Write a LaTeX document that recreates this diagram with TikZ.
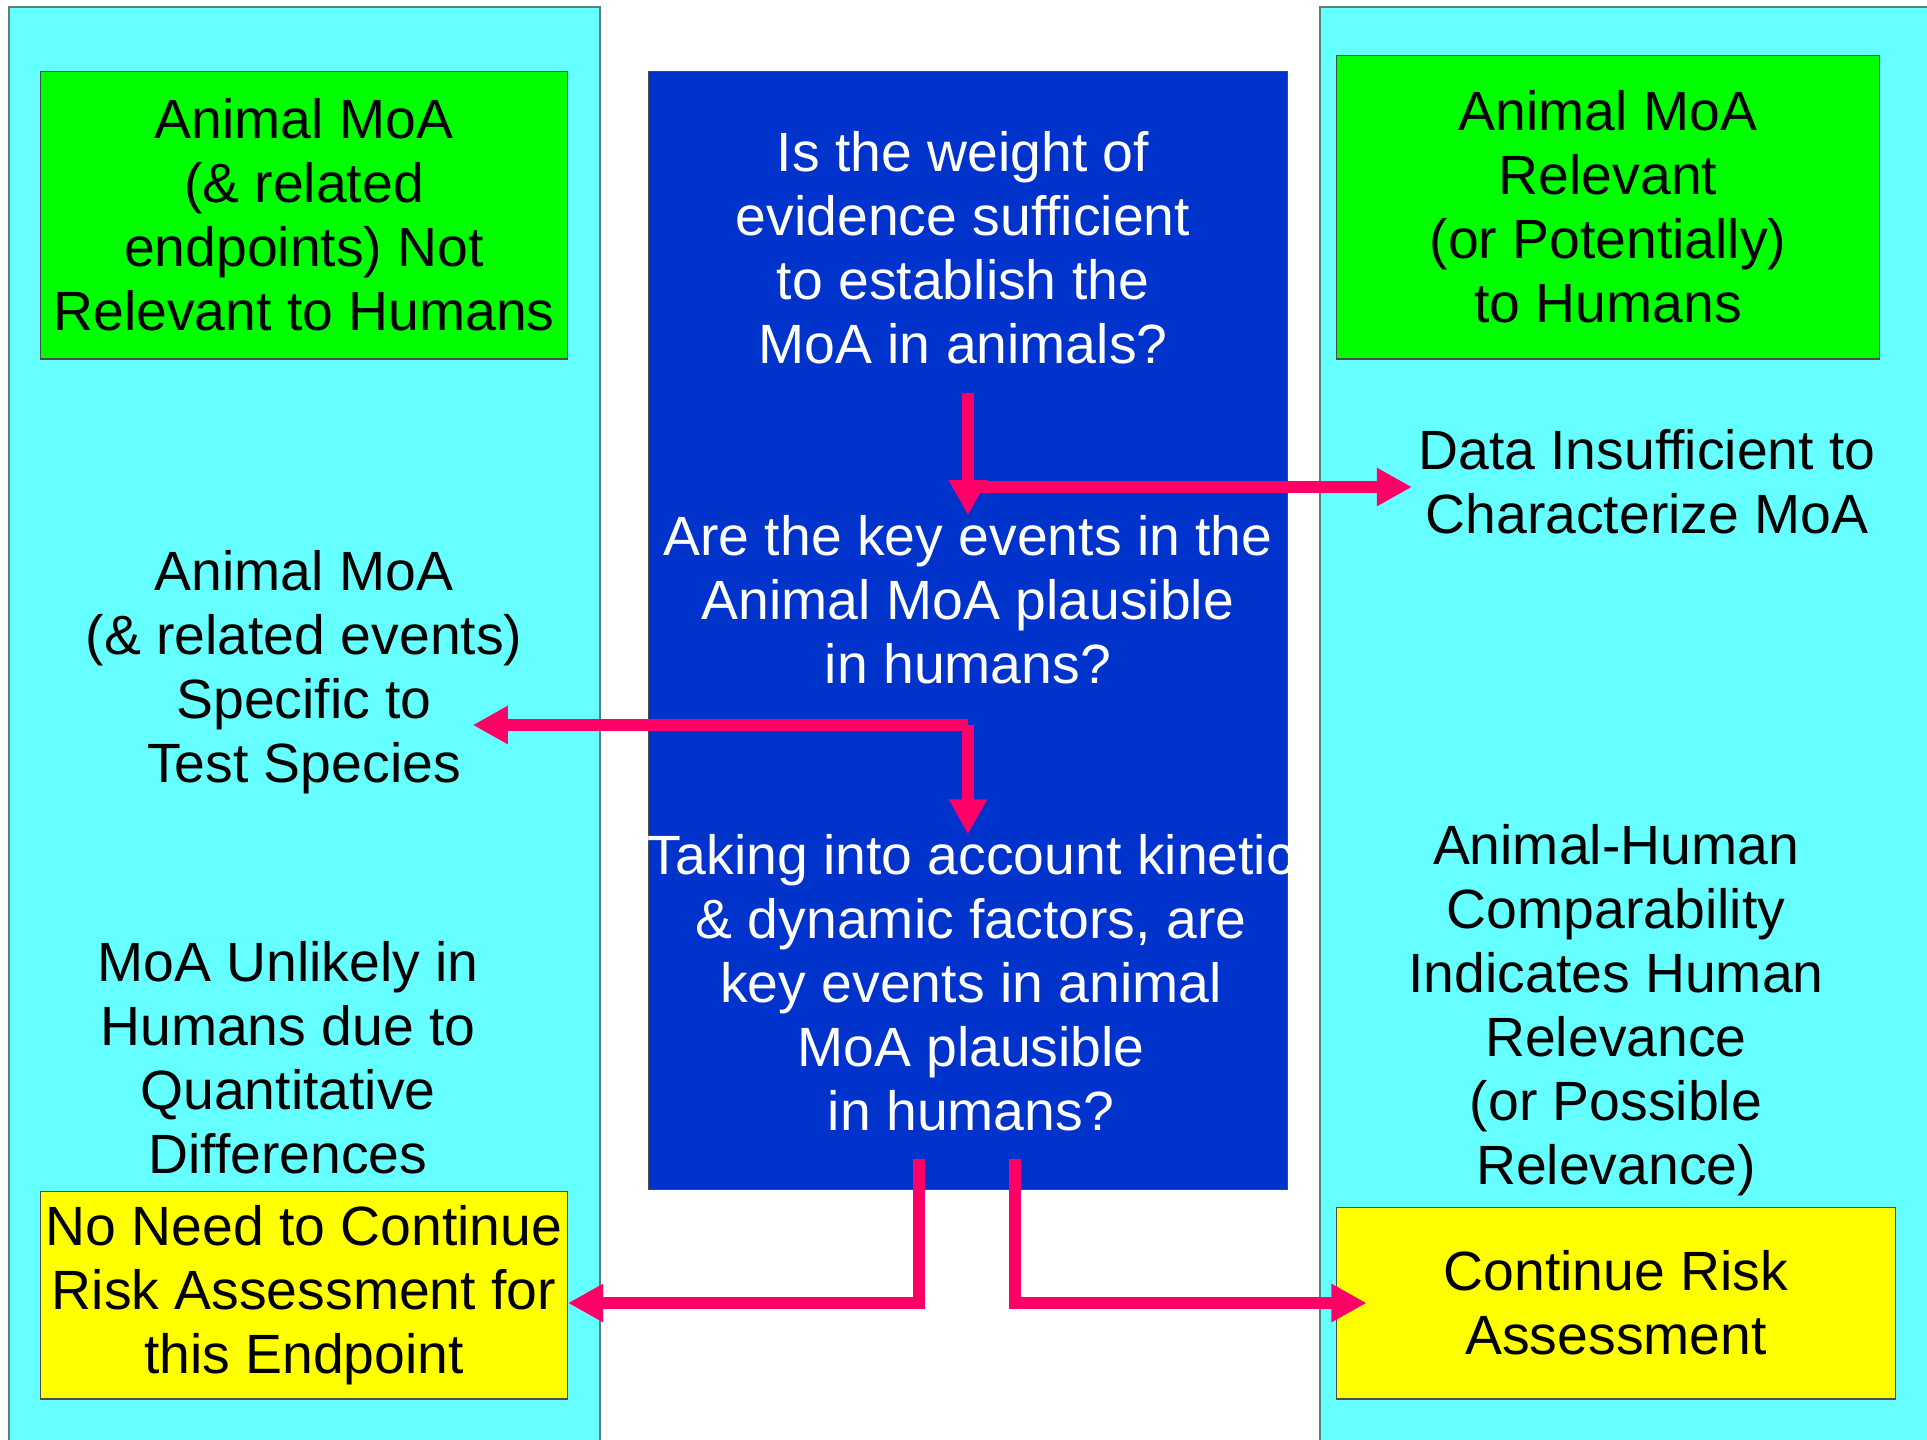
\documentclass[tikz,border=0pt]{standalone}
\usepackage{fontspec}
\setmainfont{Liberation Sans}
\usetikzlibrary{calc}
\usetikzlibrary{arrows.meta}
\definecolor{panelcyan}{HTML}{66FFFF}
\definecolor{boxgreen}{HTML}{00FF00}
\definecolor{boxblue}{HTML}{0033CC}
\definecolor{boxyellow}{HTML}{FFFF00}
\definecolor{flowpink}{HTML}{FF0066}
\tikzset{
	panel/.style={draw=gray!70!teal, fill=panelcyan, line width=0.6pt},
	result/.style={draw=black!70, line width=0.6pt, inner sep=0pt, align=center},
	ask/.style={text=white, align=center, inner sep=0pt},
	say/.style={align=center, inner sep=0pt},
	flow/.style={draw=flowpink, line width=7pt, -{Triangle[length=20pt,width=20.5pt]}},
}

\begin{document}
\begin{tikzpicture}[x=0.02cm, y=-0.02cm, every node/.append style={font=\fontsize{31.5}{36.4}\selectfont}]
		\useasboundingbox (0,0) rectangle (1927,1440);
		\draw[panel] (9,7) rectangle (600,1460);
		\draw[panel] (1320,7) rectangle (1950,1460);
		\node[result, fill=boxblue, minimum width=12.8cm, minimum height=22.38cm] (qbox) at (968,630.5) {};
		% questions
		\node[ask] (q1) at (963,248) {Is the weight of\\evidence sufficient\\to establish the\\MoA in animals?};
		\node[ask] (q2) at (968,600) {Are the key events in the\\Animal MoA plausible\\in humans?};
		\node[ask] (q3) at (971,983) {Taking into account kinetic\\\& dynamic factors, are\\key events in animal\\MoA plausible\\in humans?};
		% outcomes, left side
		\node[result, fill=boxgreen, minimum width=10.54cm, minimum height=5.76cm] (notrel) at (304,215) {Animal MoA\\(\& related\\endpoints) Not\\Relevant to Humans};
		\node[say] (specific) at (304,672) {Animal MoA\\(\& related events)\\Specific to\\Test Species};
		\node[say] (unlikely) at (288,1058) {MoA Unlikely in\\Humans due to\\Quantitative\\Differences};
		\node[result, fill=boxyellow, minimum width=10.54cm, minimum height=4.16cm] (stop) at (304,1295) {No Need to Continue\\Risk Assessment for\\this Endpoint};
		% outcomes, right side
		\node[result, fill=boxgreen, minimum width=10.88cm, minimum height=6.08cm] (rel) at (1608,207) {Animal MoA\\Relevant\\(or Potentially)\\to Humans};
		\node[say] (insuff) at (1647,482) {Data Insufficient to\\Characterize MoA};
		\node[say] (compar) at (1616,1010) {Animal-Human\\Comparability\\Indicates Human\\Relevance\\(or Possible\\Relevance)};
		\node[result, fill=boxyellow, minimum width=11.2cm, minimum height=3.84cm] (cont) at (1616,1303) {Continue Risk\\Assessment};
		\coordinate (fork1) at (968,487);
		\coordinate (fork2) at (968,725);
		\coordinate (nofrom) at (919,1159);
		\coordinate (yesfrom) at (1015,1159);
		\draw[flow] ($(q1.south -| fork1)+(0,28)$) -- (q2.north -| fork1);
		\draw[flow] (fork1) -- ($(insuff.west |- fork1)+(-6,0)$);
		\draw[flow] (fork2) -- ($(specific.east |- fork2)+(-50,0)$);
		\draw[flow] (fork2) -- (q3.north -| fork2);
		\draw[flow] (nofrom) |- ($(stop.east)+(0,8)$);
		\draw[flow] (yesfrom) |- ($(cont.west)+(31,0)$);
	\end{tikzpicture}
\end{document}
